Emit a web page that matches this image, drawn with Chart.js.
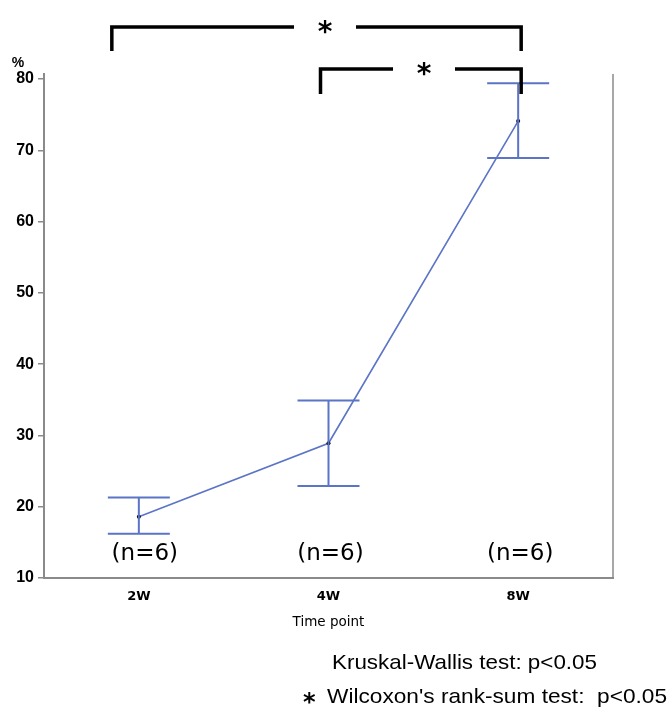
<!DOCTYPE html>
<html>
<head>
<meta charset="utf-8">
<script src="https://cdn.jsdelivr.net/npm/chart.js@4.4.0/dist/chart.umd.min.js"></script>
<style>
html,body{margin:0;padding:0;background:#fff;}
#wrap{width:669px;height:722px;position:relative;}
</style>
</head>
<body>
<div id="wrap"><canvas id="c" width="669" height="722"></canvas></div>
<script>
const categories = ['2W', '4W', '8W'];
const meanValues = [18.6, 28.9, 74.1];
const upperValues = [21.3, 34.9, 79.4];
const lowerValues = [16.2, 22.9, 68.9];
const nLabels = ['(n=6)', '(n=6)', '(n=6)'];
const yTicks = [10, 20, 30, 40, 50, 60, 70, 80];
const yMin = 10, yMax = 80.7;
const comparisons = [[0, 2, '*'], [1, 2, '*']];
const note1 = 'Kruskal-Wallis test: p<0.05';
const note2 = "Wilcoxon's rank-sum test:  p<0.05";

const BLUE = '#5b74c6';
const GRAY = '#8a8a8a';

function fitText(ctx, text, x, y, w, size) {
  ctx.font = size + 'px "Liberation Sans"';
  const m = ctx.measureText(text).width;
  ctx.save();
  ctx.translate(x, y);
  ctx.scale(w / m, 1);
  ctx.fillText(text, 0, 0);
  ctx.restore();
}

const extras = {
  id: 'extras',
  afterDatasetsDraw(chart) {
    const ctx = chart.ctx;
    const x = chart.scales.x, y = chart.scales.y;
    const ca = chart.chartArea;
    ctx.save();
    // right border
    ctx.strokeStyle = GRAY; ctx.lineWidth = 1.5;
    ctx.beginPath(); ctx.moveTo(ca.right, ca.top); ctx.lineTo(ca.right, ca.bottom); ctx.stroke();
    // error bars
    ctx.strokeStyle = BLUE; ctx.lineWidth = 2;
    for (let i = 0; i < categories.length; i++) {
      const px = x.getPixelForValue(i);
      const pu = y.getPixelForValue(upperValues[i]);
      const pl = y.getPixelForValue(lowerValues[i]);
      ctx.beginPath();
      ctx.moveTo(px, pu); ctx.lineTo(px, pl);
      ctx.moveTo(px - 31, pu); ctx.lineTo(px + 31, pu);
      ctx.moveTo(px - 31, pl); ctx.lineTo(px + 31, pl);
      ctx.stroke();
    }
    // n labels
    ctx.fillStyle = '#000';
    ctx.font = '23px "DejaVu Sans"';
    ctx.textAlign = 'center'; ctx.textBaseline = 'middle';
    const nOff = [6, 2, 2];
    for (let i = 0; i < categories.length; i++) {
      ctx.fillText(nLabels[i], x.getPixelForValue(i) + nOff[i], ca.bottom - 24);
    }
    // % label
    ctx.font = 'bold 14px "Liberation Sans"';
    ctx.fillText('%', 18, ca.top - 11);
    // brackets
    ctx.strokeStyle = '#000'; ctx.lineWidth = 3.5; ctx.lineCap = 'butt';
    const levels = [ca.top - 47, ca.top - 5];
    const drops = [24, 25];
    const mids = [325, 424];
    comparisons.forEach((c, k) => {
      const x1 = x.getPixelForValue(c[0]) - 27 + (k === 0 ? 0 : 19);
      const x2 = x.getPixelForValue(c[1]) + 3;
      const yl = levels[k];
      const mid = mids[k];
      const gap = 31;
      ctx.beginPath();
      ctx.moveTo(x1, yl + drops[k]); ctx.lineTo(x1, yl); ctx.lineTo(mid - gap, yl);
      ctx.moveTo(mid + gap, yl); ctx.lineTo(x2, yl); ctx.lineTo(x2, yl + drops[k]);
      ctx.stroke();
      ctx.font = 'bold 28px "DejaVu Sans"';
      ctx.fillText(c[2], mid, yl + 7);
    });
    // notes
    ctx.textAlign = 'left';
    fitText(ctx, note1, 332, 663, 265, 21);
    ctx.font = 'bold 24px "DejaVu Sans"';
    ctx.fillText('*', 303, 704);
    fitText(ctx, note2, 327, 697, 340, 21);
    ctx.restore();
  }
};

new Chart(document.getElementById('c'), {
  type: 'line',
  data: {
    labels: categories,
    datasets: [{
      data: meanValues,
      borderColor: BLUE,
      borderWidth: 1.6,
      pointRadius: 2,
      pointBackgroundColor: '#000',
      pointBorderColor: '#000',
      pointBorderWidth: 0,
      tension: 0
    }]
  },
  options: {
    responsive: false,
    animation: false,
    devicePixelRatio: 1,
    layout: { padding: { left: 0, right: 56, top: 74, bottom: 91 } },
    plugins: { legend: { display: false }, tooltip: { enabled: false } },
    scales: {
      x: {
        offset: true,
        grid: { display: false, drawTicks: false },
        border: { display: true, color: GRAY, width: 2 },
        ticks: { color: '#000', font: { family: 'DejaVu Sans', size: 13, weight: 'bold' }, padding: 11 },
        title: { display: true, text: 'Time point', color: '#000', font: { family: 'DejaVu Sans', size: 13.5 }, padding: { top: 6, bottom: 0 } },
        afterFit(s) { s.height = 53; }
      },
      y: {
        min: yMin, max: yMax,
        grid: { display: true, drawOnChartArea: false, drawTicks: true, tickLength: 6, color: GRAY, lineWidth: 1.5 },
        border: { display: true, color: GRAY, width: 2 },
        ticks: {
          stepSize: 10, color: '#000', padding: 4,
          font: { family: 'Liberation Sans', size: 16, weight: 'bold' }
        },
        afterBuildTicks(s) { s.ticks = yTicks.map(v => ({ value: v })); },
        afterFit(s) { s.width = 44; }
      }
    }
  },
  plugins: [extras]
});
</script>
</body>
</html>
